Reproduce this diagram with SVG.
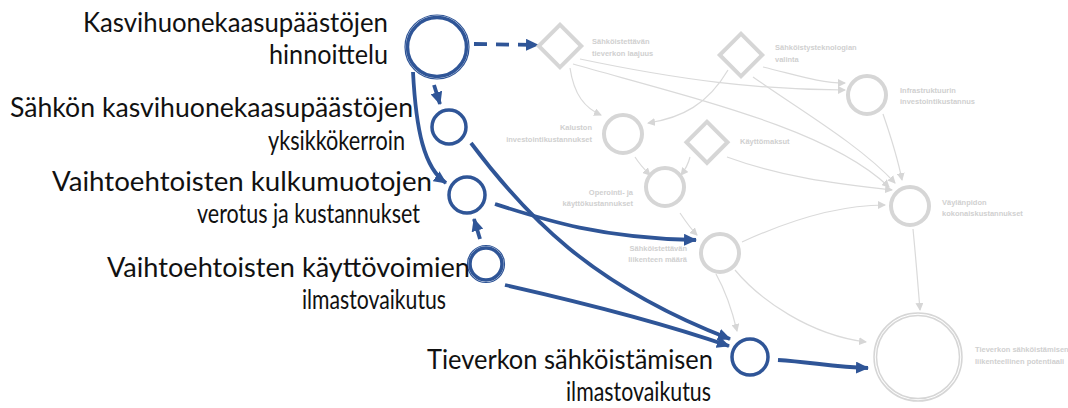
<svg xmlns="http://www.w3.org/2000/svg" width="1068" height="408" viewBox="0 0 1068 408">
  <style>
    .lbl { font-family: Lato, "Liberation Sans", sans-serif; font-size: 27px; fill: #111; }
    .end { text-anchor: end; }
    .sm { font-family: "Liberation Sans", Arial, sans-serif; font-size: 7.5px; font-weight: bold; fill: #d0d0d0; }
    .bn { fill: none; stroke: #2f5597; stroke-width: 3.5; }
    .bthin { fill: none; stroke: #2f5597; stroke-width: 1.2; }
    .gn { fill: none; stroke: #d6d6d6; stroke-width: 4; }
    .gthin { fill: none; stroke: #d6d6d6; stroke-width: 1.5; }
    .be { fill: none; stroke: #2f5597; stroke-width: 3.8; marker-end: url(#ab); }
    .ge { fill: none; stroke: #dadada; stroke-width: 1.2; marker-end: url(#ag); }
  </style>
  <defs>
    <marker id="ab" markerUnits="userSpaceOnUse" markerWidth="14" markerHeight="12" refX="12" refY="6" orient="auto">
      <path d="M0,0 L13,6 L0,12 Z" fill="#2f5597"/>
    </marker>
    <marker id="ag" markerUnits="userSpaceOnUse" markerWidth="8" markerHeight="8" refX="7" refY="4" orient="auto">
      <path d="M0,0 L8,4 L0,8 Z" fill="#d6d6d6"/>
    </marker>
  </defs>

  <rect width="1068" height="408" fill="#ffffff"/>

  <!-- connectors -->
  <g id="connectors">
    <!-- grey background links -->
    <path class="ge" d="M570,68 C574,95 585,108 601,115"/>
    <path class="ge" d="M580,59 C680,80 760,90 845,90"/>
    <path class="ge" d="M573,64 C700,100 830,130 889,187"/>
    <path class="ge" d="M763,67 C800,76 820,83 845,83"/>
    <path class="ge" d="M728,70 C708,104 682,118 648,123"/>
    <path class="ge" d="M753,77 C800,110 860,145 895,183"/>
    <path class="ge" d="M883,114 C892,140 898,160 902,180"/>
    <path class="ge" d="M727,157 C790,180 850,185 892,190"/>
    <path class="ge" d="M690,157 C688,165 685,170 681,175"/>
    <path class="ge" d="M635,157 C640,165 645,170 650,175"/>
    <path class="ge" d="M680,213 C686,222 690,228 697,235"/>
    <path class="ge" d="M742,242 C790,220 840,205 885,205"/>
    <path class="ge" d="M716,274 C725,290 732,310 737,331"/>
    <path class="ge" d="M735,270 C760,300 810,335 866,342"/>
    <path class="ge" d="M913,229 C916,260 918,285 920,310"/>

    <!-- blue highlighted links -->
    <path class="be" d="M474,44 L538,45" stroke-dasharray="13,9"/>
    <path class="be" d="M434,85 L440,104"/>
    <path class="be" d="M413,72 C416,130 424,168 446,183"/>
    <path class="be" d="M471,143 C525,215 590,285 730,339"/>
    <path class="be" d="M505,285 C580,302 660,322 729,346"/>
    <path class="be" d="M495,204 C545,220 600,238 696,240"/>
    <path class="be" d="M480,239 L474,219"/>
    <path class="be" d="M778,360 C810,362 835,367 868,368"/>
  </g>

  <!-- grey model nodes -->
  <g id="n-laajuus">
    <rect class="gn" x="545" y="31" width="30" height="30" transform="rotate(45 560 46)"/>
    <text class="sm" x="592" y="44">Sähköistettävän</text>
    <text class="sm" x="592" y="56">tieverkon laajuus</text>
  </g>
  <g id="n-teknologia">
    <rect class="gn" x="726" y="40" width="30" height="30" transform="rotate(45 741 55)"/>
    <text class="sm" x="775" y="50">Sähköistysteknologian</text>
    <text class="sm" x="775" y="62">valinta</text>
  </g>
  <g id="n-infra">
    <circle class="gn" cx="867" cy="95" r="19"/>
    <text class="sm" x="900" y="93">Infrastruktuurin</text>
    <text class="sm" x="900" y="104">investointikustannus</text>
  </g>
  <g id="n-kalusto">
    <circle class="gn" cx="623" cy="134" r="19"/>
    <text class="sm end" x="592" y="130">Kaluston</text>
    <text class="sm end" x="592" y="142">investointikustannukset</text>
  </g>
  <g id="n-kayttomaksut">
    <rect class="gn" x="692" y="128" width="29" height="29" transform="rotate(45 707 143)"/>
    <text class="sm" x="740" y="144">Käyttömaksut</text>
  </g>
  <g id="n-operointi">
    <circle class="gn" cx="665" cy="187" r="19"/>
    <text class="sm end" x="633" y="195">Operointi- ja</text>
    <text class="sm end" x="633" y="206">käyttökustannukset</text>
  </g>
  <g id="n-liikenne">
    <circle class="gn" cx="720" cy="253" r="19"/>
    <text class="sm end" x="687" y="251">Sähköistettävän</text>
    <text class="sm end" x="687" y="262">liikenteen määrä</text>
  </g>
  <g id="n-vaylanpito">
    <circle class="gn" cx="910" cy="206" r="19"/>
    <text class="sm" x="942" y="205">Väylänpidon</text>
    <text class="sm" x="942" y="216">kokonaiskustannukset</text>
  </g>
  <g id="n-potentiaali">
    <circle class="gthin" cx="918" cy="357" r="44"/>
    <circle class="gthin" cx="918" cy="357" r="41.5"/>
    <text class="sm" x="975" y="352">Tieverkon sähköistämisen</text>
    <text class="sm" x="975" y="364">liikenteellinen potentiaali</text>
  </g>

  <!-- highlighted nodes -->
  <g id="n-hinnoittelu">
    <circle class="bthin" cx="437" cy="47" r="32"/>
    <circle class="bn" cx="437" cy="47" r="29.5" stroke-width="2.5"/>
    <text class="lbl end" x="388" y="32" textLength="305" lengthAdjust="spacingAndGlyphs">Kasvihuonekaasupäästöjen</text>
    <text class="lbl end" x="388" y="64" textLength="119" lengthAdjust="spacingAndGlyphs">hinnoittelu</text>
  </g>
  <g id="n-kerroin">
    <circle class="bn" cx="449" cy="127" r="17"/>
    <text class="lbl end" x="413" y="117" textLength="403" lengthAdjust="spacingAndGlyphs">Sähkön kasvihuonekaasupäästöjen</text>
    <text class="lbl end" x="405" y="150" textLength="137" lengthAdjust="spacingAndGlyphs">yksikkökerroin</text>
  </g>
  <g id="n-verotus">
    <circle class="bn" cx="467" cy="195" r="18"/>
    <text class="lbl end" x="432" y="191" textLength="380" lengthAdjust="spacingAndGlyphs">Vaihtoehtoisten kulkumuotojen</text>
    <text class="lbl end" x="420" y="223" textLength="223" lengthAdjust="spacingAndGlyphs">verotus ja kustannukset</text>
  </g>
  <g id="n-kayttovoimat">
    <circle class="bthin" cx="486" cy="264" r="18.5"/>
    <circle class="bn" cx="486" cy="264" r="16" stroke-width="2.5"/>
    <text class="lbl end" x="470" y="277" textLength="363" lengthAdjust="spacingAndGlyphs">Vaihtoehtoisten käyttövoimien</text>
    <text class="lbl end" x="446" y="309" textLength="144" lengthAdjust="spacingAndGlyphs">ilmastovaikutus</text>
  </g>
  <g id="n-ilmastovaikutus">
    <circle class="bn" cx="750" cy="357" r="18"/>
    <text class="lbl end" x="713" y="369" textLength="286" lengthAdjust="spacingAndGlyphs">Tieverkon sähköistämisen</text>
    <text class="lbl end" x="711" y="401" textLength="145" lengthAdjust="spacingAndGlyphs">ilmastovaikutus</text>
  </g>
</svg>
